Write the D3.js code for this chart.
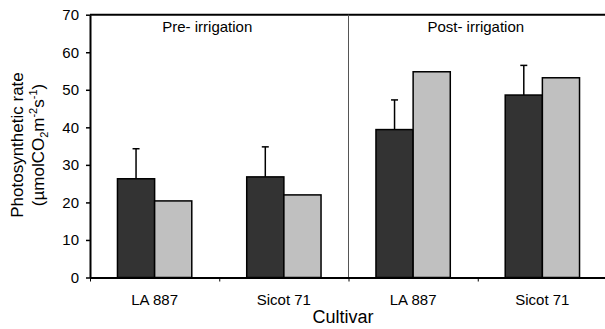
<!DOCTYPE html>
<html>
<head>
<meta charset="utf-8">
<script src="https://cdn.jsdelivr.net/npm/d3@7"></script>
<style>
  body { margin: 0; background: #fff; }
  svg text { font-family: "Liberation Sans", Arial, sans-serif; fill: #000; }
</style>
</head>
<body>
<svg id="chart" width="605" height="329"></svg>
<script>
// chart data
var periods = ["Pre- irrigation", "Post- irrigation"]
var cultivars = ["LA 887", "Sicot 71", "LA 887", "Sicot 71"]
var darkValues = [26.3, 26.8, 39.4, 48.6]
var darkErrors = [8.0, 8.0, 7.9, 7.9]
var lightValues = [20.4, 22.0, 54.8, 53.2]
var yTicks = [0, 10, 20, 30, 40, 50, 60, 70]

var svg = d3.select("#chart")
var plotLeft = 90, plotRight = 607, plotTop = 14.7, plotBottom = 277.5

var x = d3.scaleBand().domain(d3.range(cultivars.length)).range([plotLeft, plotRight])
var inner = d3.scaleBand().domain(["dark", "light"])
	.range([x.bandwidth() * 0.2125, x.bandwidth() * 0.7875])
var y = d3.scaleLinear().domain([0, 70]).range([plotBottom, plotTop])

var rows = cultivars.map((c, i) => ({i: i, name: c, dark: darkValues[i], err: darkErrors[i], light: lightValues[i]}))

// top border
svg.append("line")
	.attr("x1", plotLeft).attr("x2", 605)
	.attr("y1", plotTop).attr("y2", plotTop)
	.style("stroke", "#000").style("stroke-width", 2)

// divider between the periods
svg.append("line")
	.attr("x1", x(2)).attr("x2", x(2))
	.attr("y1", plotTop).attr("y2", plotBottom)
	.style("stroke", "#555").style("stroke-width", 1)

var groups = svg.append("g").selectAll("g")
	.data(rows)
	.enter()
	.append("g")
	.attr("transform", d => "translate(" + x(d.i) + ",0)")

var errX = inner("dark") + inner.bandwidth() / 2

// error bars drawn first so the bar outline sits over them
groups.append("line")
	.attr("x1", errX).attr("x2", errX)
	.attr("y1", d => y(d.dark))
	.attr("y2", d => y(d.dark + d.err))
	.style("stroke", "#000").style("stroke-width", 1.5)
groups.append("line")
	.attr("x1", errX - 3.5).attr("x2", errX + 3.5)
	.attr("y1", d => y(d.dark + d.err))
	.attr("y2", d => y(d.dark + d.err))
	.style("stroke", "#000").style("stroke-width", 1.5)

groups.append("rect")
	.attr("x", inner("dark"))
	.attr("width", inner.bandwidth())
	.attr("y", d => y(d.dark))
	.attr("height", d => y(0) - y(d.dark))
	.style("fill", "#333333").style("stroke", "#000").style("stroke-width", 1.5)

groups.append("rect")
	.attr("x", inner("light"))
	.attr("width", inner.bandwidth())
	.attr("y", d => y(d.light))
	.attr("height", d => y(0) - y(d.light))
	.style("fill", "#c0c0c0").style("stroke", "#000").style("stroke-width", 1.5)

// y axis
var yAxis = svg.append("g")
	.attr("transform", "translate(" + plotLeft + ",0)")
	.call(d3.axisLeft(y).tickValues(yTicks).tickSize(4).tickSizeOuter(0).tickPadding(7))
yAxis.select(".domain").style("stroke-width", 2)
yAxis.selectAll(".tick line").style("stroke-width", 1.5)
yAxis.selectAll("text").style("font-size", "15px").style("font-family", "Liberation Sans, Arial, sans-serif")

// x axis, ticks sit on the band edges
var xEdges = d3.scaleLinear().domain([0, cultivars.length]).range([plotLeft, plotRight])
var xAxis = svg.append("g")
	.attr("transform", "translate(0," + plotBottom + ")")
	.call(d3.axisBottom(xEdges).ticks(4).tickSize(4).tickSizeOuter(0).tickFormat(""))
xAxis.select(".domain").style("stroke-width", 2)
xAxis.selectAll(".tick line").style("stroke-width", 1)

svg.append("g").selectAll("text")
	.data(rows)
	.enter()
	.append("text")
	.attr("x", d => x(d.i) + x.bandwidth() / 2)
	.attr("y", 305)
	.style("text-anchor", "middle")
	.style("font-size", "15px")
	.text(d => d.name)

// period labels, the first one sits a bit left of the group centre
svg.append("g").selectAll("text")
	.data(periods)
	.enter()
	.append("text")
	.attr("x", (d, i) => x(i * 2) + x.bandwidth() + (i == 0 ? -12 : -2))
	.attr("y", 32)
	.style("text-anchor", "middle")
	.style("font-size", "15px")
	.text(d => d)

svg.append("text")
	.attr("x", 343)
	.attr("y", 323)
	.style("text-anchor", "middle")
	.style("font-size", "18px")
	.text("Cultivar")

// y title, two lines
svg.append("text")
	.attr("transform", "translate(23,145) rotate(-90)")
	.style("text-anchor", "middle")
	.style("font-size", "17px")
	.text("Photosynthetic rate")

// second line with sub and superscripts, [text, offset from baseline]
var second = [["(µmolCO", 0], ["2", 4], ["m", 0], ["-2", -7], ["s", 0], ["-1", -7], [")", 0]]
var line2 = svg.append("text")
	.attr("transform", "translate(44,145) rotate(-90)")
	.style("text-anchor", "middle")
	.style("font-size", "17px")
var cur = 0
second.forEach(p => {
	var t = line2.append("tspan").text(p[0]).attr("dy", p[1] - cur)
	if (p[1] != 0) t.style("font-size", "11px")
	cur = p[1]
})
</script>
</body>
</html>
